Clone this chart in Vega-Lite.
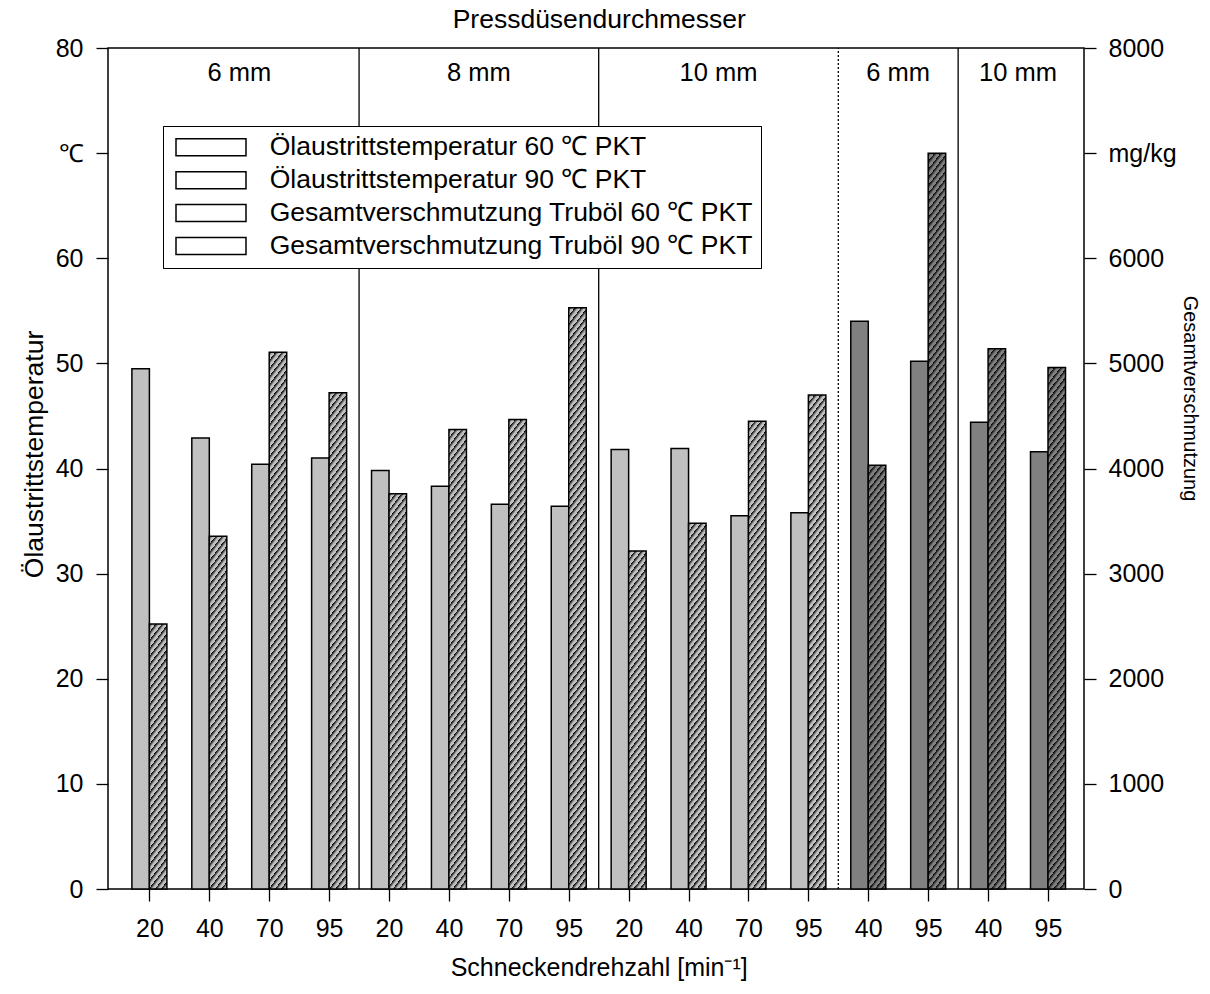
{
  "$schema": "https://vega.github.io/schema/vega-lite/v6.json",
  "width": 976,
  "height": 841,
  "autosize": {"type": "none"},
  "padding": {"left": 108, "top": 48, "right": 126, "bottom": 105},
  "background": "white",
  "config": {
    "font": "Liberation Sans",
    "view": {"stroke": "black", "strokeWidth": 1.5},
    "axis": {
      "domain": false,
      "grid": false,
      "tickColor": "black",
      "tickSize": 12,
      "tickWidth": 1.3,
      "labelFont": "Liberation Sans",
      "labelFontSize": 25,
      "labelColor": "black",
      "titleFont": "Liberation Sans",
      "titleFontSize": 25,
      "titleFontWeight": "normal",
      "titleColor": "black"
    }
  },
  "params": [
    {
      "name": "schraffur",
      "value": [
        {"offset":0,"color":"#000"},{"offset":0.006,"color":"transparent"},{"offset":0.01,"color":"transparent"},
        {"offset":0.01,"color":"#000"},{"offset":0.016,"color":"transparent"},{"offset":0.02,"color":"transparent"},
        {"offset":0.02,"color":"#000"},{"offset":0.026,"color":"transparent"},{"offset":0.03,"color":"transparent"},
        {"offset":0.03,"color":"#000"},{"offset":0.036,"color":"transparent"},{"offset":0.04,"color":"transparent"},
        {"offset":0.04,"color":"#000"},{"offset":0.046,"color":"transparent"},{"offset":0.05,"color":"transparent"},
        {"offset":0.05,"color":"#000"},{"offset":0.056,"color":"transparent"},{"offset":0.06,"color":"transparent"},
        {"offset":0.06,"color":"#000"},{"offset":0.066,"color":"transparent"},{"offset":0.07,"color":"transparent"},
        {"offset":0.07,"color":"#000"},{"offset":0.076,"color":"transparent"},{"offset":0.08,"color":"transparent"},
        {"offset":0.08,"color":"#000"},{"offset":0.086,"color":"transparent"},{"offset":0.09,"color":"transparent"},
        {"offset":0.09,"color":"#000"},{"offset":0.096,"color":"transparent"},{"offset":0.1,"color":"transparent"},
        {"offset":0.1,"color":"#000"},{"offset":0.106,"color":"transparent"},{"offset":0.11,"color":"transparent"},
        {"offset":0.11,"color":"#000"},{"offset":0.116,"color":"transparent"},{"offset":0.12,"color":"transparent"},
        {"offset":0.12,"color":"#000"},{"offset":0.126,"color":"transparent"},{"offset":0.13,"color":"transparent"},
        {"offset":0.13,"color":"#000"},{"offset":0.136,"color":"transparent"},{"offset":0.14,"color":"transparent"},
        {"offset":0.14,"color":"#000"},{"offset":0.146,"color":"transparent"},{"offset":0.15,"color":"transparent"},
        {"offset":0.15,"color":"#000"},{"offset":0.156,"color":"transparent"},{"offset":0.16,"color":"transparent"},
        {"offset":0.16,"color":"#000"},{"offset":0.166,"color":"transparent"},{"offset":0.17,"color":"transparent"},
        {"offset":0.17,"color":"#000"},{"offset":0.176,"color":"transparent"},{"offset":0.18,"color":"transparent"},
        {"offset":0.18,"color":"#000"},{"offset":0.186,"color":"transparent"},{"offset":0.19,"color":"transparent"},
        {"offset":0.19,"color":"#000"},{"offset":0.196,"color":"transparent"},{"offset":0.2,"color":"transparent"},
        {"offset":0.2,"color":"#000"},{"offset":0.206,"color":"transparent"},{"offset":0.21,"color":"transparent"},
        {"offset":0.21,"color":"#000"},{"offset":0.216,"color":"transparent"},{"offset":0.22,"color":"transparent"},
        {"offset":0.22,"color":"#000"},{"offset":0.226,"color":"transparent"},{"offset":0.23,"color":"transparent"},
        {"offset":0.23,"color":"#000"},{"offset":0.236,"color":"transparent"},{"offset":0.24,"color":"transparent"},
        {"offset":0.24,"color":"#000"},{"offset":0.246,"color":"transparent"},{"offset":0.25,"color":"transparent"},
        {"offset":0.25,"color":"#000"},{"offset":0.256,"color":"transparent"},{"offset":0.26,"color":"transparent"},
        {"offset":0.26,"color":"#000"},{"offset":0.266,"color":"transparent"},{"offset":0.27,"color":"transparent"},
        {"offset":0.27,"color":"#000"},{"offset":0.276,"color":"transparent"},{"offset":0.28,"color":"transparent"},
        {"offset":0.28,"color":"#000"},{"offset":0.286,"color":"transparent"},{"offset":0.29,"color":"transparent"},
        {"offset":0.29,"color":"#000"},{"offset":0.296,"color":"transparent"},{"offset":0.3,"color":"transparent"},
        {"offset":0.3,"color":"#000"},{"offset":0.306,"color":"transparent"},{"offset":0.31,"color":"transparent"},
        {"offset":0.31,"color":"#000"},{"offset":0.316,"color":"transparent"},{"offset":0.32,"color":"transparent"},
        {"offset":0.32,"color":"#000"},{"offset":0.326,"color":"transparent"},{"offset":0.33,"color":"transparent"},
        {"offset":0.33,"color":"#000"},{"offset":0.336,"color":"transparent"},{"offset":0.34,"color":"transparent"},
        {"offset":0.34,"color":"#000"},{"offset":0.346,"color":"transparent"},{"offset":0.35,"color":"transparent"},
        {"offset":0.35,"color":"#000"},{"offset":0.356,"color":"transparent"},{"offset":0.36,"color":"transparent"},
        {"offset":0.36,"color":"#000"},{"offset":0.366,"color":"transparent"},{"offset":0.37,"color":"transparent"},
        {"offset":0.37,"color":"#000"},{"offset":0.376,"color":"transparent"},{"offset":0.38,"color":"transparent"},
        {"offset":0.38,"color":"#000"},{"offset":0.386,"color":"transparent"},{"offset":0.39,"color":"transparent"},
        {"offset":0.39,"color":"#000"},{"offset":0.396,"color":"transparent"},{"offset":0.4,"color":"transparent"},
        {"offset":0.4,"color":"#000"},{"offset":0.406,"color":"transparent"},{"offset":0.41,"color":"transparent"},
        {"offset":0.41,"color":"#000"},{"offset":0.416,"color":"transparent"},{"offset":0.42,"color":"transparent"},
        {"offset":0.42,"color":"#000"},{"offset":0.426,"color":"transparent"},{"offset":0.43,"color":"transparent"},
        {"offset":0.43,"color":"#000"},{"offset":0.436,"color":"transparent"},{"offset":0.44,"color":"transparent"},
        {"offset":0.44,"color":"#000"},{"offset":0.446,"color":"transparent"},{"offset":0.45,"color":"transparent"},
        {"offset":0.45,"color":"#000"},{"offset":0.456,"color":"transparent"},{"offset":0.46,"color":"transparent"},
        {"offset":0.46,"color":"#000"},{"offset":0.466,"color":"transparent"},{"offset":0.47,"color":"transparent"},
        {"offset":0.47,"color":"#000"},{"offset":0.476,"color":"transparent"},{"offset":0.48,"color":"transparent"},
        {"offset":0.48,"color":"#000"},{"offset":0.486,"color":"transparent"},{"offset":0.49,"color":"transparent"},
        {"offset":0.49,"color":"#000"},{"offset":0.496,"color":"transparent"},{"offset":0.5,"color":"transparent"},
        {"offset":0.5,"color":"#000"},{"offset":0.506,"color":"transparent"},{"offset":0.51,"color":"transparent"},
        {"offset":0.51,"color":"#000"},{"offset":0.516,"color":"transparent"},{"offset":0.52,"color":"transparent"},
        {"offset":0.52,"color":"#000"},{"offset":0.526,"color":"transparent"},{"offset":0.53,"color":"transparent"},
        {"offset":0.53,"color":"#000"},{"offset":0.536,"color":"transparent"},{"offset":0.54,"color":"transparent"},
        {"offset":0.54,"color":"#000"},{"offset":0.546,"color":"transparent"},{"offset":0.55,"color":"transparent"},
        {"offset":0.55,"color":"#000"},{"offset":0.556,"color":"transparent"},{"offset":0.56,"color":"transparent"},
        {"offset":0.56,"color":"#000"},{"offset":0.566,"color":"transparent"},{"offset":0.57,"color":"transparent"},
        {"offset":0.57,"color":"#000"},{"offset":0.576,"color":"transparent"},{"offset":0.58,"color":"transparent"},
        {"offset":0.58,"color":"#000"},{"offset":0.586,"color":"transparent"},{"offset":0.59,"color":"transparent"},
        {"offset":0.59,"color":"#000"},{"offset":0.596,"color":"transparent"},{"offset":0.6,"color":"transparent"},
        {"offset":0.6,"color":"#000"},{"offset":0.606,"color":"transparent"},{"offset":0.61,"color":"transparent"},
        {"offset":0.61,"color":"#000"},{"offset":0.616,"color":"transparent"},{"offset":0.62,"color":"transparent"},
        {"offset":0.62,"color":"#000"},{"offset":0.626,"color":"transparent"},{"offset":0.63,"color":"transparent"},
        {"offset":0.63,"color":"#000"},{"offset":0.636,"color":"transparent"},{"offset":0.64,"color":"transparent"},
        {"offset":0.64,"color":"#000"},{"offset":0.646,"color":"transparent"},{"offset":0.65,"color":"transparent"},
        {"offset":0.65,"color":"#000"},{"offset":0.656,"color":"transparent"},{"offset":0.66,"color":"transparent"},
        {"offset":0.66,"color":"#000"},{"offset":0.666,"color":"transparent"},{"offset":0.67,"color":"transparent"},
        {"offset":0.67,"color":"#000"},{"offset":0.676,"color":"transparent"},{"offset":0.68,"color":"transparent"},
        {"offset":0.68,"color":"#000"},{"offset":0.686,"color":"transparent"},{"offset":0.69,"color":"transparent"},
        {"offset":0.69,"color":"#000"},{"offset":0.696,"color":"transparent"},{"offset":0.7,"color":"transparent"},
        {"offset":0.7,"color":"#000"},{"offset":0.706,"color":"transparent"},{"offset":0.71,"color":"transparent"},
        {"offset":0.71,"color":"#000"},{"offset":0.716,"color":"transparent"},{"offset":0.72,"color":"transparent"},
        {"offset":0.72,"color":"#000"},{"offset":0.726,"color":"transparent"},{"offset":0.73,"color":"transparent"},
        {"offset":0.73,"color":"#000"},{"offset":0.736,"color":"transparent"},{"offset":0.74,"color":"transparent"},
        {"offset":0.74,"color":"#000"},{"offset":0.746,"color":"transparent"},{"offset":0.75,"color":"transparent"},
        {"offset":0.75,"color":"#000"},{"offset":0.756,"color":"transparent"},{"offset":0.76,"color":"transparent"},
        {"offset":0.76,"color":"#000"},{"offset":0.766,"color":"transparent"},{"offset":0.77,"color":"transparent"},
        {"offset":0.77,"color":"#000"},{"offset":0.776,"color":"transparent"},{"offset":0.78,"color":"transparent"},
        {"offset":0.78,"color":"#000"},{"offset":0.786,"color":"transparent"},{"offset":0.79,"color":"transparent"},
        {"offset":0.79,"color":"#000"},{"offset":0.796,"color":"transparent"},{"offset":0.8,"color":"transparent"},
        {"offset":0.8,"color":"#000"},{"offset":0.806,"color":"transparent"},{"offset":0.81,"color":"transparent"},
        {"offset":0.81,"color":"#000"},{"offset":0.816,"color":"transparent"},{"offset":0.82,"color":"transparent"},
        {"offset":0.82,"color":"#000"},{"offset":0.826,"color":"transparent"},{"offset":0.83,"color":"transparent"},
        {"offset":0.83,"color":"#000"},{"offset":0.836,"color":"transparent"},{"offset":0.84,"color":"transparent"},
        {"offset":0.84,"color":"#000"},{"offset":0.846,"color":"transparent"},{"offset":0.85,"color":"transparent"},
        {"offset":0.85,"color":"#000"},{"offset":0.856,"color":"transparent"},{"offset":0.86,"color":"transparent"},
        {"offset":0.86,"color":"#000"},{"offset":0.866,"color":"transparent"},{"offset":0.87,"color":"transparent"},
        {"offset":0.87,"color":"#000"},{"offset":0.876,"color":"transparent"},{"offset":0.88,"color":"transparent"},
        {"offset":0.88,"color":"#000"},{"offset":0.886,"color":"transparent"},{"offset":0.89,"color":"transparent"},
        {"offset":0.89,"color":"#000"},{"offset":0.896,"color":"transparent"},{"offset":0.9,"color":"transparent"},
        {"offset":0.9,"color":"#000"},{"offset":0.906,"color":"transparent"},{"offset":0.91,"color":"transparent"},
        {"offset":0.91,"color":"#000"},{"offset":0.916,"color":"transparent"},{"offset":0.92,"color":"transparent"},
        {"offset":0.92,"color":"#000"},{"offset":0.926,"color":"transparent"},{"offset":0.93,"color":"transparent"},
        {"offset":0.93,"color":"#000"},{"offset":0.936,"color":"transparent"},{"offset":0.94,"color":"transparent"},
        {"offset":0.94,"color":"#000"},{"offset":0.946,"color":"transparent"},{"offset":0.95,"color":"transparent"},
        {"offset":0.95,"color":"#000"},{"offset":0.956,"color":"transparent"},{"offset":0.96,"color":"transparent"},
        {"offset":0.96,"color":"#000"},{"offset":0.966,"color":"transparent"},{"offset":0.97,"color":"transparent"},
        {"offset":0.97,"color":"#000"},{"offset":0.976,"color":"transparent"},{"offset":0.98,"color":"transparent"},
        {"offset":0.98,"color":"#000"},{"offset":0.986,"color":"transparent"},{"offset":0.99,"color":"transparent"},
        {"offset":0.99,"color":"#000"},{"offset":0.996,"color":"transparent"},{"offset":1,"color":"transparent"}
      ]
    },
    {
      "name": "schraffurHell",
      "value": [
        {"offset":0,"color":"#000"},{"offset":0.0375,"color":"#c0c0c0"},{"offset":0.0625,"color":"#c0c0c0"},
        {"offset":0.0625,"color":"#000"},{"offset":0.1,"color":"#c0c0c0"},{"offset":0.125,"color":"#c0c0c0"},
        {"offset":0.125,"color":"#000"},{"offset":0.1625,"color":"#c0c0c0"},{"offset":0.1875,"color":"#c0c0c0"},
        {"offset":0.1875,"color":"#000"},{"offset":0.225,"color":"#c0c0c0"},{"offset":0.25,"color":"#c0c0c0"},
        {"offset":0.25,"color":"#000"},{"offset":0.2875,"color":"#c0c0c0"},{"offset":0.3125,"color":"#c0c0c0"},
        {"offset":0.3125,"color":"#000"},{"offset":0.35,"color":"#c0c0c0"},{"offset":0.375,"color":"#c0c0c0"},
        {"offset":0.375,"color":"#000"},{"offset":0.4125,"color":"#c0c0c0"},{"offset":0.4375,"color":"#c0c0c0"},
        {"offset":0.4375,"color":"#000"},{"offset":0.475,"color":"#c0c0c0"},{"offset":0.5,"color":"#c0c0c0"},
        {"offset":0.5,"color":"#000"},{"offset":0.5375,"color":"#c0c0c0"},{"offset":0.5625,"color":"#c0c0c0"},
        {"offset":0.5625,"color":"#000"},{"offset":0.6,"color":"#c0c0c0"},{"offset":0.625,"color":"#c0c0c0"},
        {"offset":0.625,"color":"#000"},{"offset":0.6625,"color":"#c0c0c0"},{"offset":0.6875,"color":"#c0c0c0"},
        {"offset":0.6875,"color":"#000"},{"offset":0.725,"color":"#c0c0c0"},{"offset":0.75,"color":"#c0c0c0"},
        {"offset":0.75,"color":"#000"},{"offset":0.7875,"color":"#c0c0c0"},{"offset":0.8125,"color":"#c0c0c0"},
        {"offset":0.8125,"color":"#000"},{"offset":0.85,"color":"#c0c0c0"},{"offset":0.875,"color":"#c0c0c0"},
        {"offset":0.875,"color":"#000"},{"offset":0.9125,"color":"#c0c0c0"},{"offset":0.9375,"color":"#c0c0c0"},
        {"offset":0.9375,"color":"#000"},{"offset":0.975,"color":"#c0c0c0"},{"offset":1,"color":"#c0c0c0"}
      ]
    },
    {
      "name": "schraffurDunkel",
      "value": [
        {"offset":0,"color":"#000"},{"offset":0.0375,"color":"#808080"},{"offset":0.0625,"color":"#808080"},
        {"offset":0.0625,"color":"#000"},{"offset":0.1,"color":"#808080"},{"offset":0.125,"color":"#808080"},
        {"offset":0.125,"color":"#000"},{"offset":0.1625,"color":"#808080"},{"offset":0.1875,"color":"#808080"},
        {"offset":0.1875,"color":"#000"},{"offset":0.225,"color":"#808080"},{"offset":0.25,"color":"#808080"},
        {"offset":0.25,"color":"#000"},{"offset":0.2875,"color":"#808080"},{"offset":0.3125,"color":"#808080"},
        {"offset":0.3125,"color":"#000"},{"offset":0.35,"color":"#808080"},{"offset":0.375,"color":"#808080"},
        {"offset":0.375,"color":"#000"},{"offset":0.4125,"color":"#808080"},{"offset":0.4375,"color":"#808080"},
        {"offset":0.4375,"color":"#000"},{"offset":0.475,"color":"#808080"},{"offset":0.5,"color":"#808080"},
        {"offset":0.5,"color":"#000"},{"offset":0.5375,"color":"#808080"},{"offset":0.5625,"color":"#808080"},
        {"offset":0.5625,"color":"#000"},{"offset":0.6,"color":"#808080"},{"offset":0.625,"color":"#808080"},
        {"offset":0.625,"color":"#000"},{"offset":0.6625,"color":"#808080"},{"offset":0.6875,"color":"#808080"},
        {"offset":0.6875,"color":"#000"},{"offset":0.725,"color":"#808080"},{"offset":0.75,"color":"#808080"},
        {"offset":0.75,"color":"#000"},{"offset":0.7875,"color":"#808080"},{"offset":0.8125,"color":"#808080"},
        {"offset":0.8125,"color":"#000"},{"offset":0.85,"color":"#808080"},{"offset":0.875,"color":"#808080"},
        {"offset":0.875,"color":"#000"},{"offset":0.9125,"color":"#808080"},{"offset":0.9375,"color":"#808080"},
        {"offset":0.9375,"color":"#000"},{"offset":0.975,"color":"#808080"},{"offset":1,"color":"#808080"}
      ]
    }
  ],
  "datasets": {
    "balken": [
      {"gruppe": "60 ℃ / 6 mm / 20", "serie": "Ölaustrittstemperatur 60 ℃ PKT", "wert": 49.5},
      {"gruppe": "60 ℃ / 6 mm / 40", "serie": "Ölaustrittstemperatur 60 ℃ PKT", "wert": 42.9},
      {"gruppe": "60 ℃ / 6 mm / 70", "serie": "Ölaustrittstemperatur 60 ℃ PKT", "wert": 40.4},
      {"gruppe": "60 ℃ / 6 mm / 95", "serie": "Ölaustrittstemperatur 60 ℃ PKT", "wert": 41.0},
      {"gruppe": "60 ℃ / 8 mm / 20", "serie": "Ölaustrittstemperatur 60 ℃ PKT", "wert": 39.8},
      {"gruppe": "60 ℃ / 8 mm / 40", "serie": "Ölaustrittstemperatur 60 ℃ PKT", "wert": 38.3},
      {"gruppe": "60 ℃ / 8 mm / 70", "serie": "Ölaustrittstemperatur 60 ℃ PKT", "wert": 36.6},
      {"gruppe": "60 ℃ / 8 mm / 95", "serie": "Ölaustrittstemperatur 60 ℃ PKT", "wert": 36.4},
      {"gruppe": "60 ℃ / 10 mm / 20", "serie": "Ölaustrittstemperatur 60 ℃ PKT", "wert": 41.8},
      {"gruppe": "60 ℃ / 10 mm / 40", "serie": "Ölaustrittstemperatur 60 ℃ PKT", "wert": 41.9},
      {"gruppe": "60 ℃ / 10 mm / 70", "serie": "Ölaustrittstemperatur 60 ℃ PKT", "wert": 35.5},
      {"gruppe": "60 ℃ / 10 mm / 95", "serie": "Ölaustrittstemperatur 60 ℃ PKT", "wert": 35.8},
      {"gruppe": "90 ℃ / 6 mm / 40", "serie": "Ölaustrittstemperatur 90 ℃ PKT", "wert": 54.0},
      {"gruppe": "90 ℃ / 6 mm / 95", "serie": "Ölaustrittstemperatur 90 ℃ PKT", "wert": 50.2},
      {"gruppe": "90 ℃ / 10 mm / 40", "serie": "Ölaustrittstemperatur 90 ℃ PKT", "wert": 44.4},
      {"gruppe": "90 ℃ / 10 mm / 95", "serie": "Ölaustrittstemperatur 90 ℃ PKT", "wert": 41.6},
      {"gruppe": "60 ℃ / 6 mm / 20", "serie": "Gesamtverschmutzung Truböl 60 ℃ PKT", "wert": 2520},
      {"gruppe": "60 ℃ / 6 mm / 40", "serie": "Gesamtverschmutzung Truböl 60 ℃ PKT", "wert": 3355},
      {"gruppe": "60 ℃ / 6 mm / 70", "serie": "Gesamtverschmutzung Truböl 60 ℃ PKT", "wert": 5105},
      {"gruppe": "60 ℃ / 6 mm / 95", "serie": "Gesamtverschmutzung Truböl 60 ℃ PKT", "wert": 4720},
      {"gruppe": "60 ℃ / 8 mm / 20", "serie": "Gesamtverschmutzung Truböl 60 ℃ PKT", "wert": 3760},
      {"gruppe": "60 ℃ / 8 mm / 40", "serie": "Gesamtverschmutzung Truböl 60 ℃ PKT", "wert": 4370},
      {"gruppe": "60 ℃ / 8 mm / 70", "serie": "Gesamtverschmutzung Truböl 60 ℃ PKT", "wert": 4465},
      {"gruppe": "60 ℃ / 8 mm / 95", "serie": "Gesamtverschmutzung Truböl 60 ℃ PKT", "wert": 5530},
      {"gruppe": "60 ℃ / 10 mm / 20", "serie": "Gesamtverschmutzung Truböl 60 ℃ PKT", "wert": 3215},
      {"gruppe": "60 ℃ / 10 mm / 40", "serie": "Gesamtverschmutzung Truböl 60 ℃ PKT", "wert": 3480},
      {"gruppe": "60 ℃ / 10 mm / 70", "serie": "Gesamtverschmutzung Truböl 60 ℃ PKT", "wert": 4450},
      {"gruppe": "60 ℃ / 10 mm / 95", "serie": "Gesamtverschmutzung Truböl 60 ℃ PKT", "wert": 4700},
      {"gruppe": "90 ℃ / 6 mm / 40", "serie": "Gesamtverschmutzung Truböl 90 ℃ PKT", "wert": 4030},
      {"gruppe": "90 ℃ / 6 mm / 95", "serie": "Gesamtverschmutzung Truböl 90 ℃ PKT", "wert": 7000},
      {"gruppe": "90 ℃ / 10 mm / 40", "serie": "Gesamtverschmutzung Truböl 90 ℃ PKT", "wert": 5140},
      {"gruppe": "90 ℃ / 10 mm / 95", "serie": "Gesamtverschmutzung Truböl 90 ℃ PKT", "wert": 4960}
    ],
    "grenzen": [
      {"gruppe": "60 ℃ / 6 mm / 95", "wechsel": "Düse"},
      {"gruppe": "60 ℃ / 8 mm / 95", "wechsel": "Düse"},
      {"gruppe": "60 ℃ / 10 mm / 95", "wechsel": "PKT"},
      {"gruppe": "90 ℃ / 6 mm / 95", "wechsel": "Düse"}
    ],
    "duesen": [
      {"gruppe": "60 ℃ / 6 mm / 40", "duese": "6 mm"},
      {"gruppe": "60 ℃ / 8 mm / 40", "duese": "8 mm"},
      {"gruppe": "60 ℃ / 10 mm / 40", "duese": "10 mm"},
      {"gruppe": "90 ℃ / 6 mm / 40", "duese": "6 mm"},
      {"gruppe": "90 ℃ / 10 mm / 40", "duese": "10 mm"}
    ]
  },
  "layer": [
    {
      "layer": [
        {
          "data": {"name": "balken"},
          "transform": [{"filter": "indexof(datum.serie, 'Öl') == 0"}],
          "mark": {"type": "bar", "width": 17.5, "xOffset": -8.75, "stroke": "black", "strokeWidth": 1.5, "opacity": 1},
          "encoding": {
            "x": {
              "field": "gruppe",
              "type": "nominal",
              "scale": {
                "type": "point",
                "padding": 0,
                "domain": [
                  "60 ℃ / 6 mm / 20", "60 ℃ / 6 mm / 40", "60 ℃ / 6 mm / 70", "60 ℃ / 6 mm / 95",
                  "60 ℃ / 8 mm / 20", "60 ℃ / 8 mm / 40", "60 ℃ / 8 mm / 70", "60 ℃ / 8 mm / 95",
                  "60 ℃ / 10 mm / 20", "60 ℃ / 10 mm / 40", "60 ℃ / 10 mm / 70", "60 ℃ / 10 mm / 95",
                  "90 ℃ / 6 mm / 40", "90 ℃ / 6 mm / 95", "90 ℃ / 10 mm / 40", "90 ℃ / 10 mm / 95"
                ],
                "range": [41.4, 940]
              },
              "axis": {
                "orient": "bottom",
                "title": "Schneckendrehzahl [min⁻¹]",
                "labelExpr": "split(datum.label, ' / ')[2]",
                "labelAngle": 0,
                "labelPadding": 15,
                "titlePadding": 14
              }
            },
            "y": {
              "field": "wert",
              "type": "quantitative",
              "scale": {"domain": [0, 80], "nice": false},
              "axis": {
                "orient": "left",
                "title": "Ölaustrittstemperatur",
                "titleFontSize": 26.5,
                "values": [0, 10, 20, 30, 40, 50, 60, 70, 80],
                "labelExpr": "datum.value == 70 ? '℃' : datum.label",
                "labelPadding": 13,
                "titlePadding": 7,
                "titleY": 406
              }
            },
            "color": {
              "field": "serie",
              "type": "nominal",
              "scale": {
                "domain": [
                  "Ölaustrittstemperatur 60 ℃ PKT",
                  "Ölaustrittstemperatur 90 ℃ PKT",
                  "Gesamtverschmutzung Truböl 60 ℃ PKT",
                  "Gesamtverschmutzung Truböl 90 ℃ PKT"
                ],
                "range": ["#c0c0c0", "#808080", "#c0c0c0", "#808080"]
              },
              "legend": {
                "title": null,
                "orient": "none",
                "legendX": 55,
                "legendY": 78,
                "direction": "vertical",
                "padding": 8,
                "strokeColor": "black",
                "fillColor": "white",
                "labelFont": "Liberation Sans",
                "labelFontSize": 26.5,
                "labelColor": "black",
                "labelLimit": 0,
                "labelOffset": 45.5,
                "symbolOffset": 26.75,
                "symbolType": "M-4.1176,-1H4.1176V1H-4.1176Z",
                "symbolSize": 289,
                "symbolStrokeColor": "black",
                "symbolStrokeWidth": 1.5,
                "rowPadding": 5.9
              }
            }
          }
        },
        {
          "data": {"name": "balken"},
          "mark": {"type": "point", "filled": false, "size": 0},
          "encoding": {
            "x": {"field": "gruppe", "type": "nominal", "axis": null},
            "y": {"datum": 0, "type": "quantitative"},
            "opacity": {"value": 0},
            "stroke": {
              "field": "serie",
              "type": "nominal",
              "scale": {
                "domain": [
                  "Gesamtverschmutzung Truböl 60 ℃ PKT",
                  "Gesamtverschmutzung Truböl 90 ℃ PKT",
                  "Ölaustrittstemperatur 60 ℃ PKT",
                  "Ölaustrittstemperatur 90 ℃ PKT"
                ],
                "range": ["black", "black", "black", "black"]
              },
              "legend": {
                "title": null,
                "values": [
                  "Ölaustrittstemperatur 60 ℃ PKT",
                  "Ölaustrittstemperatur 90 ℃ PKT",
                  "Gesamtverschmutzung Truböl 60 ℃ PKT",
                  "Gesamtverschmutzung Truböl 90 ℃ PKT"
                ],
                "orient": "none",
                "legendX": 55,
                "legendY": 78,
                "direction": "vertical",
                "padding": 8,
                "strokeColor": "black",
                "fillColor": "white",
                "labelFont": "Liberation Sans",
                "labelFontSize": 26.5,
                "labelColor": "black",
                "labelLimit": 0,
                "labelOffset": 45.5,
                "symbolOffset": 26.75,
                "symbolType": "M-4.1176,-1H4.1176V1H-4.1176Z",
                "symbolSize": 289,
                "symbolOpacity": 1,
                "symbolStrokeColor": "black",
                "symbolStrokeWidth": 1.5,
                "rowPadding": 5.9,
                "encode": {
                  "symbols": {
                    "fill": {"value": {"expr": "indexof(datum.value, 'Gesamt') == 0 ? {gradient: 'linear', x1: 0, y1: 0, x2: 1.3592, y2: 0.2539, stops: (indexof(datum.value, '60') > 0 ? schraffurHell : schraffurDunkel)} : (indexof(datum.value, '60') > 0 ? '#c0c0c0' : '#808080')"}},
                    "opacity": {"value": 1}
                  }
                }
              }
            }
          }
        },
        {
          "data": {"name": "grenzen"},
          "mark": {"type": "rule", "color": "black", "strokeWidth": 1.3, "xOffset": 29.95},
          "encoding": {
            "x": {"field": "gruppe", "type": "nominal", "axis": null},
            "y": {"datum": 0, "type": "quantitative"},
            "y2": {"datum": 80},
            "strokeDash": {"condition": {"test": "datum.wechsel == 'PKT'", "value": [2, 2]}, "value": [1, 0]}
          }
        },
        {
          "data": {"name": "duesen"},
          "mark": {"type": "text", "font": "Liberation Sans", "fontSize": 25.5, "color": "black", "xOffset": 29.95, "baseline": "middle", "align": "center"},
          "encoding": {
            "x": {
              "field": "gruppe",
              "type": "nominal",
              "axis": {
                "orient": "top",
                "title": "Pressdüsendurchmesser",
                "titleFontSize": 26.5,
                "labels": false,
                "ticks": false,
                "domain": false,
                "titlePadding": 15
              }
            },
            "y": {"datum": 77.6, "type": "quantitative"},
            "text": {"field": "duese"}
          }
        }
      ],
      "resolve": {"axis": {"x": "independent"}}
    },
    {
      "layer": [
        {
          "data": {"name": "balken"},
          "transform": [{"filter": "indexof(datum.serie, 'Gesamt') == 0"}],
          "mark": {"type": "bar", "width": 17.5, "xOffset": 8.75, "strokeWidth": 0, "opacity": 1},
          "encoding": {
            "x": {"field": "gruppe", "type": "nominal", "axis": null},
            "y": {
              "field": "wert",
              "type": "quantitative",
              "scale": {"domain": [0, 8000], "nice": false},
              "axis": {
                "orient": "right",
                "title": "Gesamtverschmutzung",
                "titleFontSize": 20,
                "titleY": 350,
                "values": [0, 1000, 2000, 3000, 4000, 5000, 6000, 7000, 8000],
                "format": "d",
                "labelExpr": "datum.value == 7000 ? 'mg/kg' : datum.label",
                "labelPadding": 12,
                "titlePadding": 3
              }
            },
            "color": {
              "field": "serie",
              "type": "nominal"
            }
          }
        },
        {
          "data": {"name": "balken"},
          "transform": [{"filter": "indexof(datum.serie, 'Gesamt') == 0"}],
          "mark": {"type": "bar", "width": 17.5, "xOffset": 8.75, "stroke": "black", "strokeWidth": 1.5, "opacity": 1},
          "encoding": {
            "x": {"field": "gruppe", "type": "nominal", "axis": null},
            "y": {"field": "wert", "type": "quantitative"},
            "fill": {"value": {"expr": "{gradient: 'linear', x1: 0, y1: 0, x2: 18200 / (517.5625 + pow(datum.wert * 0.105125, 2)), y2: 800 * datum.wert * 0.105125 / (517.5625 + pow(datum.wert * 0.105125, 2)), stops: schraffur}"}}
          }
        }
      ]
    }
  ],
  "resolve": {"scale": {"y": "independent"}, "axis": {"x": "independent", "y": "independent"}}
}
